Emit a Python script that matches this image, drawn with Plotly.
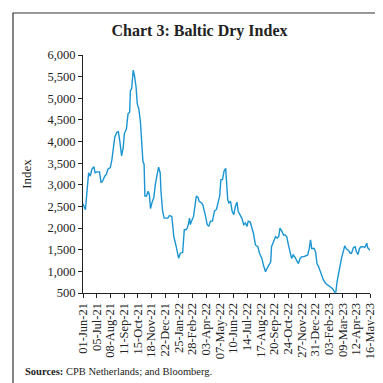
import plotly.graph_objects as go

dates = ["2021-06-01","2021-06-05","2021-06-07","2021-06-11","2021-06-15","2021-06-19","2021-06-23","2021-06-28",
"2021-07-01","2021-07-06","2021-07-12","2021-07-16","2021-07-20","2021-07-25","2021-07-29","2021-08-02","2021-08-08",
"2021-08-12","2021-08-16","2021-08-19","2021-08-24","2021-08-28","2021-09-01","2021-09-05","2021-09-09","2021-09-12",
"2021-09-17","2021-09-21","2021-09-25","2021-09-27","2021-09-30","2021-10-04","2021-10-07","2021-10-11","2021-10-14",
"2021-10-18","2021-10-22","2021-10-25","2021-10-28","2021-10-31","2021-11-02","2021-11-06","2021-11-10","2021-11-13",
"2021-11-16","2021-11-20","2021-11-24","2021-11-28","2021-12-01","2021-12-06","2021-12-10","2021-12-12","2021-12-16",
"2021-12-20","2021-12-29","2022-01-02","2022-01-08","2022-01-13","2022-01-18","2022-01-23","2022-01-25","2022-01-29",
"2022-02-04","2022-02-08","2022-02-12","2022-02-15","2022-02-18","2022-02-21","2022-02-23","2022-02-26","2022-03-03",
"2022-03-07","2022-03-10","2022-03-14","2022-03-17","2022-03-23","2022-03-26","2022-04-01","2022-04-06","2022-04-10",
"2022-04-14","2022-04-19","2022-04-24","2022-04-29","2022-05-04","2022-05-07","2022-05-10","2022-05-14","2022-05-18",
"2022-05-22","2022-05-24","2022-05-27","2022-05-30","2022-06-03","2022-06-07","2022-06-11","2022-06-15","2022-06-19",
"2022-06-22","2022-06-26","2022-07-01","2022-07-06","2022-07-10","2022-07-14","2022-07-17","2022-07-22","2022-07-26",
"2022-07-30","2022-08-04","2022-08-10","2022-08-14","2022-08-20","2022-08-24","2022-08-29","2022-09-02","2022-09-07",
"2022-09-11","2022-09-13","2022-09-17","2022-09-20","2022-09-23","2022-09-27","2022-10-01","2022-10-04","2022-10-08",
"2022-10-13","2022-10-17","2022-10-21","2022-10-25","2022-10-30","2022-11-02","2022-11-06","2022-11-11","2022-11-15",
"2022-11-19","2022-11-23","2022-11-28","2022-12-03","2022-12-08","2022-12-12","2022-12-16","2022-12-19","2022-12-22",
"2022-12-28","2023-01-01","2023-01-04","2023-01-08","2023-01-12","2023-01-16","2023-01-20","2023-01-26","2023-02-01",
"2023-02-06","2023-02-12","2023-02-17","2023-02-20","2023-02-23","2023-02-26","2023-03-02","2023-03-06","2023-03-10",
"2023-03-14","2023-03-18","2023-03-23","2023-03-28","2023-03-31","2023-04-05","2023-04-09","2023-04-12","2023-04-16",
"2023-04-20","2023-04-24","2023-04-29","2023-05-03","2023-05-08","2023-05-10","2023-05-16"]

bdi = [2560,2460,2425,2850,3280,3200,3360,3420,
3280,3300,3300,3050,3090,3200,3240,3360,3400,
3590,3820,4100,4210,4230,3980,3670,3860,4190,
4290,4640,4680,5180,5220,5650,5530,5260,4870,
4750,4440,4010,3550,3470,2740,2740,2850,2780,
2450,2600,2700,3010,3160,3410,3280,2850,2390,
2230,2230,2290,2270,1800,1610,1420,1300,1420,
1440,1960,1960,2000,2080,2230,2080,2160,2270,
2540,2740,2710,2620,2580,2540,2310,2080,2040,
2160,2160,2390,2430,2620,2740,3120,3120,3320,
3380,3090,2660,2580,2620,2390,2310,2500,2600,
2390,2310,2230,2080,2120,2040,2160,2140,2000,
1880,1610,1570,1420,1300,1140,990,1070,1160,
1220,1570,1690,1730,1800,1770,1800,2000,1940,
1840,1840,1800,1610,1380,1300,1380,1320,1240,
1180,1300,1340,1340,1360,1380,1530,1730,1530,
1530,1440,1180,1110,1000,910,800,720,680,
640,600,520,520,760,910,1140,1300,1440,
1590,1520,1490,1420,1420,1550,1570,1460,1390,
1530,1570,1570,1550,1650,1550,1490]

tick_dates = ["2021-06-01","2021-07-05","2021-08-08","2021-09-11","2021-10-15","2021-11-18","2021-12-22",
"2022-01-25","2022-02-28","2022-04-03","2022-05-07","2022-06-10","2022-07-14","2022-08-17","2022-09-20",
"2022-10-24","2022-11-27","2022-12-31","2023-02-03","2023-03-09","2023-04-12","2023-05-16"]
y_ticks = [500,1000,1500,2000,2500,3000,3500,4000,4500,5000,5500,6000]

title_text = "Chart 3: Baltic Dry Index"
y_title = "Index"
source_text = "<b>Sources:</b> CPB Netherlands; and Bloomberg."

W, H = 383, 383
ml, mr, mt, mb = 75, 21, 47, 98
pw, ph = W - ml - mr, H - mt - mb

serif = "Liberation Serif, DejaVu Serif, serif"

fig = go.Figure()
fig.add_trace(go.Scatter(x=dates, y=bdi, mode="lines",
                         line=dict(color="#1b95d2", width=1.4), showlegend=False))

fig.update_layout(
    width=W, height=H,
    margin=dict(l=ml, r=mr, t=mt, b=mb),
    paper_bgcolor="white", plot_bgcolor="white",
    font=dict(family=serif, size=12, color="#222"),
    title=dict(text="<b>" + title_text + "</b>", x=0.5, xanchor="center",
               y=1 - 22 / H, yanchor="middle", font=dict(size=16, color="#222", family=serif)),
    xaxis=dict(range=[tick_dates[0], tick_dates[-1]], tickmode="array", tickvals=tick_dates,
               tickformat="%d-%b-%y", tickangle=-90, showgrid=False, zeroline=False,
               showline=True, linecolor="#222", linewidth=1, ticks="outside", ticklen=4,
               tickcolor="#222", tickfont=dict(size=12.5)),
    yaxis=dict(range=[500, 6000], tickmode="array", tickvals=y_ticks, tickformat=",d",
               showgrid=False, zeroline=False, showline=True, linecolor="#222", linewidth=1,
               ticks="outside", ticklen=4, tickcolor="#222", tickfont=dict(size=12.5),
               title=dict(text=y_title, font=dict(size=13), standoff=12)),
    annotations=[dict(text=source_text, xref="paper", yref="paper",
                      x=(15 - ml) / pw, y=-(363 - mt - ph) / ph, xanchor="left", yanchor="middle",
                      showarrow=False, font=dict(size=10.5, color="#222", family=serif))],
    shapes=[dict(type="rect", xref="paper", yref="paper",
                 x0=(5 - ml) / pw, x1=(378 - ml) / pw,
                 y0=-(377 - mt - ph) / ph, y1=1 + (mt - 5) / ph,
                 line=dict(color="#333", width=1.2), fillcolor="rgba(0,0,0,0)", layer="below")],
)

fig.write_html("out.html")
